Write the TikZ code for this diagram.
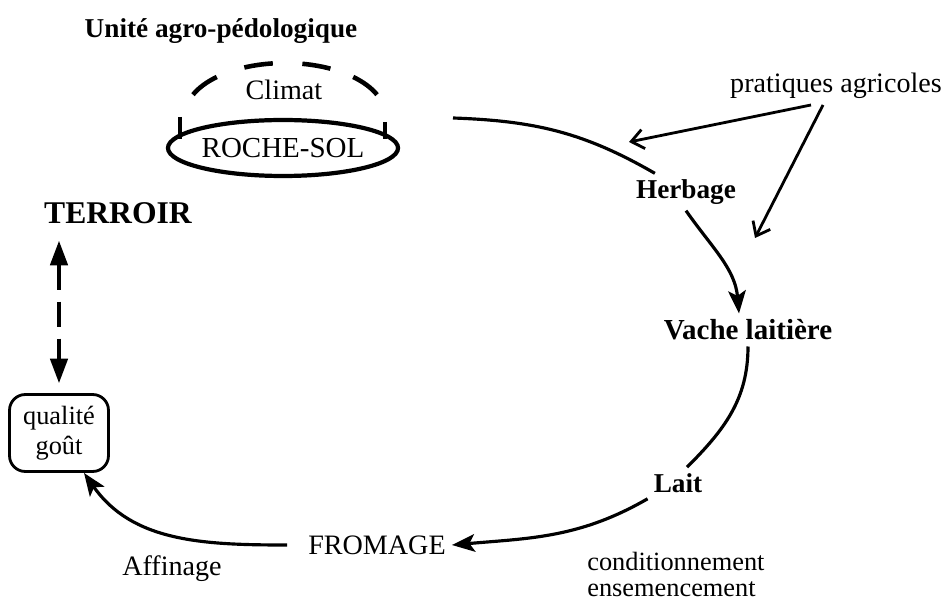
\documentclass[tikz,border=0pt]{standalone}
\usepackage{fontspec}
\setmainfont{Liberation Serif}
\usetikzlibrary{arrows.meta, positioning, shapes}

\tikzset{
  lbl/.style={font=\fontsize{16}{18}\selectfont},
  lblb/.style={font=\fontsize{15.5}{18}\selectfont\bfseries},
  cycle/.style={line width=1.8pt},
  tip/.style={-{Stealth[length=13pt, width=10pt, inset=3pt]}},
  barb/.style={line width=1.6pt, -{Straight Barb[length=7pt, width=11pt]}},
}

\begin{document}
\begin{tikzpicture}[x=0.02cm, y=-0.02cm]
\useasboundingbox (0,0) rectangle (944,601);

\node[lblb] (unite) at (221,31) {Unité agro-pédologique};
\node[lbl] (climat) at (284,90) {Climat};
\node[draw, ellipse, line width=2.4pt, minimum width=4.18cm, minimum height=1.12cm,
  inner sep=0pt, font=\fontsize{16.5}{18}\selectfont] (sol) at (283,148) {ROCHE-SOL};
% dashed cap and brackets
\foreach \a/\b in {23/47, 63/80, 97/114, 133/157}
  \draw[line width=2.6pt] (285,115) ++(\a:2cm and 1.04cm)
    arc[start angle=\a, end angle=\b, x radius=2cm, y radius=1.04cm];
\draw[line width=2pt] (180,117) -- (180,139) (385,122) -- (385,139);

\node[font=\fontsize{18}{20}\selectfont\bfseries] (terroir) at (118,213) {TERROIR};
\node[draw, rounded corners=9pt, line width=1.6pt, minimum width=1.98cm, minimum height=1.54cm,
  align=center, inner sep=1pt, font=\fontsize{15}{17}\selectfont] (qualite) at (59,433) {qualité\\goût};

\node[lbl] (pratiques) at (836,86) {pratiques agricoles};
\node[lblb] (herbage) at (686,192) {Herbage};
\node[font=\fontsize{16.5}{19}\selectfont\bfseries] (vache) at (748,330) {Vache laitière};
\node[lblb] (lait) at (678,483) {Lait};
\node[lbl] (fromage) at (377,545) {FROMAGE};
\node[lbl] (affinage) at (172,569) {Affinage};
\node[align=left, anchor=north west, inner sep=0pt, font=\fontsize{15}{14.5}\selectfont] (cond) at (587,552)
  {conditionnement\\ensemencement};

\coordinate (sol-out) at (453,118);
\coordinate (p-herbe) at (629,142);
\coordinate (p-vache) at (755,238);

\draw[cycle] (sol-out) to[out=-2, in=150] ([xshift=0.5cm]herbage.north west);
\draw[cycle, tip] (herbage.south) to[out=-55, in=95] ([xshift=-0.18cm]vache.north);
\draw[cycle] (vache.south) to[out=-90, in=45] ([xshift=0.18cm]lait.north);
\draw[cycle, tip] (lait.south west) to[out=-150, in=5] (fromage.east);
\draw[cycle, tip] ([xshift=-0.3cm]fromage.west) to[out=180, in=-55] ([xshift=0.5cm]qualite.south);
\draw[barb] ([xshift=-0.5cm]pratiques.south) -- (p-herbe);
\draw[barb] ([xshift=-0.26cm]pratiques.south) -- (p-vache);
\draw[cycle, {Triangle[length=14pt,width=10pt]}-{Triangle[length=14pt,width=10pt]},
  dash pattern=on 0.5cm off 0.24cm]
  ([yshift=-0.22cm]terroir.south -| qualite.north) -- ([yshift=0.2cm]qualite.north);
\end{tikzpicture}
\end{document}
